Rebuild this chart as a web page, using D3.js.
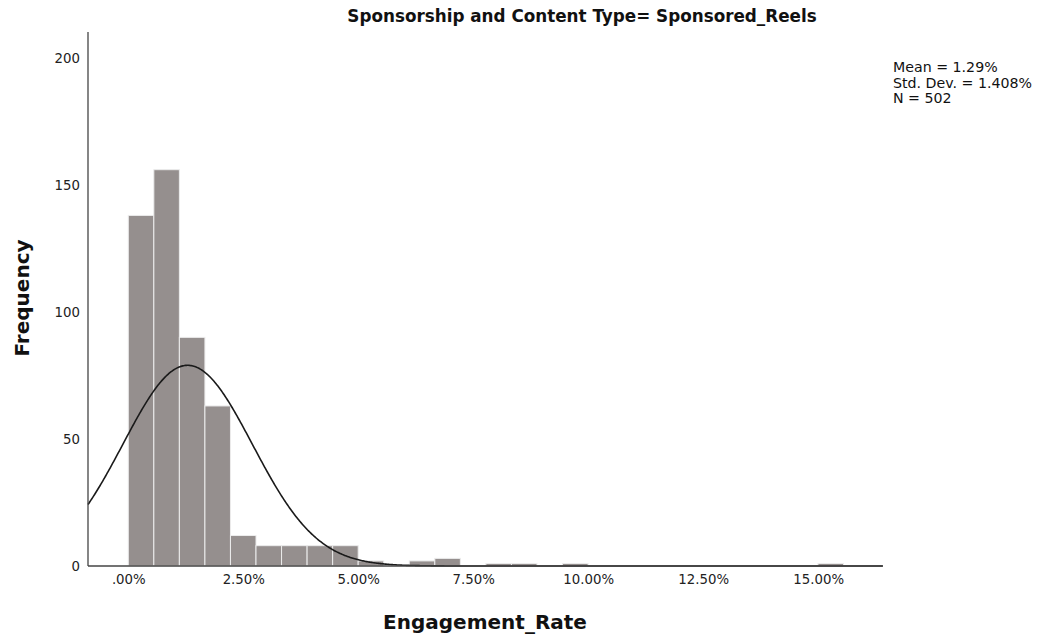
<!DOCTYPE html>
<html>
<head>
<meta charset="utf-8">
<script src="https://cdn.jsdelivr.net/npm/d3@7"></script>
<style>
  body { margin: 0; background: #fff; }
  svg { display: block; font-family: "DejaVu Sans", Verdana, sans-serif; }
</style>
</head>
<body>
<svg id="chart" width="1041" height="638"></svg>
<script>
// ---- data ----
const binWidth = 0.5554;          // % per bin
const binCounts = [138, 156, 90, 63, 12, 8, 8, 8, 8, 2, 0, 2, 3, 0, 1, 1, 0, 1, 0, 0, 0, 0, 0, 0, 0, 0, 0, 1];
const xTicks = [0, 2.5, 5, 7.5, 10, 12.5, 15];
const yTicks = [0, 50, 100, 150, 200];
const mean = 1.29, sd = 1.408, n = 502;
const statLines = ["Mean = 1.29%", "Std. Dev. = 1.408%", "N = 502"];
const title = "Sponsorship and Content Type= Sponsored_Reels";

(function () {
const bins = binCounts.map((c, i) => ({ x0: i * binWidth, x1: (i + 1) * binWidth, count: c }));

const svg = d3.select("#chart");
const pLeft = 88, pRight = 883, pTop = 32, pBottom = 566;

const x = d3.scaleLinear().domain([-0.876, 16.41]).range([pLeft, pRight]);
const y = d3.scaleLinear().domain([0, 210.2]).range([pBottom, pTop]);

// bars
svg.append("g").selectAll("rect").data(bins.filter(d => d.count > 0)).join("rect")
  .attr("x", d => x(d.x0))
  .attr("y", d => y(d.count))
  .attr("width", d => x(d.x1) - x(d.x0))
  .attr("height", d => y(0) - y(d.count))
  .attr("fill", "#958f8e")
  .attr("stroke", "#ececec")
  .attr("stroke-width", 1);

// normal curve
const curveX = d3.range(x.domain()[0], x.domain()[1] + 0.001, 0.02);
const pdf = v => n * binWidth / (sd * Math.sqrt(2 * Math.PI)) * Math.exp(-0.5 * ((v - mean) / sd) ** 2);
svg.append("path")
  .datum(curveX)
  .attr("d", d3.line().x(d => x(d)).y(d => y(pdf(d))))
  .attr("fill", "none")
  .attr("stroke", "#1a1a1a")
  .attr("stroke-width", 1.6);

// axes
const fmt = v => v === 0 ? ".00%" : v.toFixed(2) + "%";
const xAxis = svg.append("g").attr("transform", `translate(0,${pBottom})`)
  .call(d3.axisBottom(x).tickValues(xTicks).tickFormat(fmt).tickSize(0).tickPadding(9));
const yAxis = svg.append("g").attr("transform", `translate(${pLeft},0)`)
  .call(d3.axisLeft(y).tickValues(yTicks).tickSize(0).tickPadding(8));
[xAxis, yAxis].forEach(a => {
  a.select(".domain").remove();
  a.selectAll("text").attr("font-size", 13.3).attr("fill", "#222").attr("font-family", "DejaVu Sans, sans-serif");
});
svg.append("line").attr("x1", pLeft).attr("x2", pRight).attr("y1", pBottom).attr("y2", pBottom)
  .attr("stroke", "#444").attr("stroke-width", 1.3);
svg.append("line").attr("x1", pLeft).attr("x2", pLeft).attr("y1", pTop).attr("y2", pBottom)
  .attr("stroke", "#444").attr("stroke-width", 1.3);

// titles
svg.append("text").attr("x", 582).attr("y", 22).attr("text-anchor", "middle")
  .attr("font-size", 16.8).attr("font-weight", "bold").attr("fill", "#111").text(title);
svg.append("text").attr("transform", "translate(29,298) rotate(-90)").attr("text-anchor", "middle")
  .attr("font-size", 20).attr("font-weight", "bold").attr("fill", "#111").text("Frequency");
svg.append("text").attr("x", 485).attr("y", 629).attr("text-anchor", "middle")
  .attr("font-size", 20).attr("font-weight", "bold").attr("fill", "#111").text("Engagement_Rate");

// stats
svg.append("g").selectAll("text").data(statLines).join("text")
  .attr("x", 893).attr("y", (d, i) => 72 + i * 15.5)
  .attr("font-size", 14.2).attr("fill", "#111").text(d => d);
})();
</script>
</body>
</html>
